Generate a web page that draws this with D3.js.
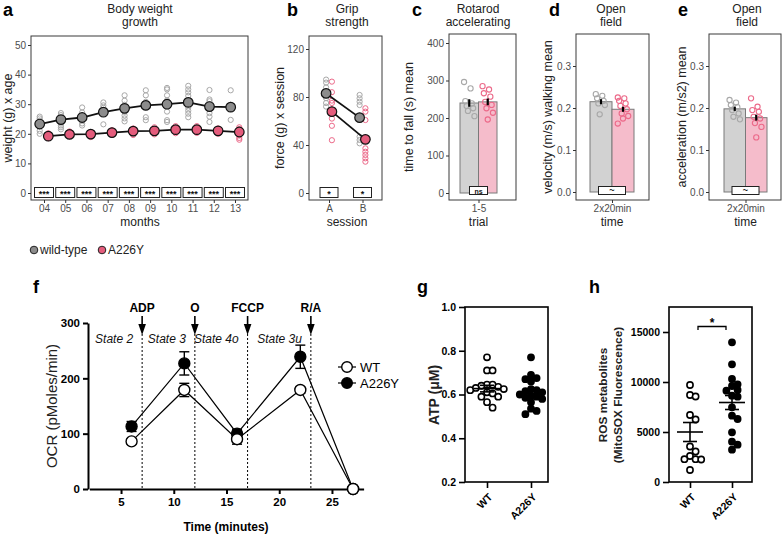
<!DOCTYPE html>
<html>
<head>
<meta charset="utf-8">
<script src="https://cdn.jsdelivr.net/npm/d3@7"></script>
<style>
  body { margin: 0; background: #fff; }
  text { font-family: "Liberation Sans", Arial, sans-serif; }
</style>
</head>
<body>
<svg id="fig" width="782" height="534"></svg>
<script>
// ---- data ----
const months = ["04", "05", "06", "07", "08", "09", "10", "11", "12", "13"];
const wtWeight = [23.3, 24.8, 25.5, 27.3, 28.6, 29.6, 30.0, 30.6, 29.2, 29.0];
const mutWeight = [19.2, 19.8, 19.9, 20.4, 20.9, 21.0, 21.4, 21.4, 21.0, 20.6];
const wtWeightDots = [
  [25.8, 25.2, 24.5, 23.5, 22.5, 21.0, 20.0],
  [27.0, 26.3, 25.0, 23.8, 22.8, 22.2, 21.5],
  [28.9, 27.2, 26.0, 24.5, 23.5, 22.8],
  [30.6, 29.6, 28.8, 28.0, 27.0, 23.2],
  [33.0, 31.2, 29.8, 28.6, 27.4, 26.2, 25.2, 24.2],
  [34.7, 33.0, 30.8, 29.2, 25.6, 24.6],
  [35.5, 35.0, 33.0, 31.3, 27.5, 24.6, 24.0],
  [36.2, 35.0, 34.0, 32.8, 31.0, 28.8, 27.8, 26.8, 25.6],
  [34.8, 31.6, 31.0, 30.0, 28.5, 27.0, 25.8, 24.0],
  [34.7, 29.8, 28.5, 24.7]
];
const mutWeightDots = [
  [20.2, 19.6, 19.0, 18.5],
  [20.8, 20.2, 19.6, 19.2],
  [20.6, 20.0, 19.4, 18.9],
  [21.2, 20.6, 20.0, 19.6],
  [21.8, 21.2, 20.6, 20.0, 19.6],
  [22.2, 21.6, 21.0, 20.4, 19.8],
  [22.6, 22.0, 21.4, 20.8, 20.2],
  [22.6, 22.0, 21.4, 20.8, 20.3],
  [21.8, 21.2, 20.6, 20.0],
  [22.2, 21.6, 21.0, 20.2, 19.4, 18.6, 18.0]
];
const weightSig = ["***", "***", "***", "***", "***", "***", "***", "***", "***", "***"];

const sessions = ["A", "B"];
const wtGrip = [83, 62.8];
const mutGrip = [67.8, 44.7];
const wtGripSem = [2.5, 3];
const mutGripSem = [4, 3.5];
const wtGripDots = [[94.5, 92, 88, 83, 79, 75, 72], [81.7, 78.9, 76.1, 73.3, 62.2, 46.9, 44.2, 41.4]];
const mutGripDots = [[92.8, 84, 77, 75, 68.5, 62, 56, 44], [70.6, 67.8, 60.8, 45.6, 37.2, 34.4, 31.7, 28.9, 26.1]];
const gripSig = ["*", "*"];

const rotarodMean = [240, 243];
const rotarodSem = [10, 9];
const rotarodWT = [296, 279, 245, 239, 232, 226, 219, 205];
const rotarodMut = [285, 276, 266, 257, 243, 235, 226, 214, 196];

const velocityMean = [0.215, 0.197];
const velocitySem = [0.006, 0.006];
const velocityWT = [0.233, 0.229, 0.223, 0.217, 0.211, 0.207, 0.185];
const velocityMut = [0.225, 0.223, 0.217, 0.211, 0.205, 0.197, 0.187, 0.181, 0.175, 0.163];

const accelMean = [0.198, 0.177];
const accelSem = [0.005, 0.007];
const accelWT = [0.219, 0.213, 0.207, 0.202, 0.195, 0.187, 0.179, 0.173];
const accelMut = [0.223, 0.203, 0.195, 0.191, 0.179, 0.175, 0.164, 0.155, 0.13];

const ocrTime = [6, 11, 16, 22, 27];
const ocrWT = [86, 179, 90, 179, 0];
const ocrWTSem = [5, 12, 9, 6, 0];
const ocrMut = [113, 227, 100, 239, 0];
const ocrMutSem = [9, 21, 8, 21, 0];
const injTime = [7, 12, 17, 23];
const injLabels = ["ADP", "O", "FCCP", "R/A"];
const stateLabels = ["State 2", "State 3", "State 4o", "State 3u"];

const atpWT = [0.77, 0.71, 0.71, 0.645, 0.645, 0.64, 0.635, 0.63, 0.625, 0.62, 0.61, 0.605, 0.59, 0.59, 0.565, 0.54];
const atpMut = [0.77, 0.69, 0.675, 0.67, 0.66, 0.625, 0.62, 0.615, 0.61, 0.6, 0.595, 0.59, 0.585, 0.58, 0.565, 0.535, 0.525, 0.51];
const atpMean = [0.627, 0.603];
const atpSem = [0.015, 0.015];

const rosWT = [9700, 8700, 8550, 6700, 6250, 3550, 3050, 2600, 2280, 2280, 2250, 1200];
const rosMut = [13970, 11770, 10300, 9770, 9600, 9200, 9130, 8630, 8530, 7470, 6630, 6300, 4970, 4030, 3730, 3230];
const rosMean = [5000, 7950];
const rosSem = [950, 700];

const genotypes = ["WT", "A226Y"];

// ---- styles ----
const INK = "#222";
const TICK = "#4d4d4d";
const BOXC = "#3a3a3a";
const GREY_PT = "#8c8c8c", PINK_PT = "#e45c7c";
const GREY_OPEN = "#a8a8a8", PINK_OPEN = "#ec6a8a";
const GREY_BAR = "#d2d2d2", PINK_BAR = "#f5bccb";

const svg = d3.select("#fig");

function letter(x, y, t) {
  svg.append("text").attr("x", x).attr("y", y).attr("font-size", 18).attr("font-weight", 700)
    .attr("fill", "#000").text(t);
}
function title(x, lines) {
  lines.forEach((l, i) => {
    svg.append("text").attr("x", x).attr("y", 13 + i * 13).attr("text-anchor", "middle")
      .attr("font-size", 12).attr("fill", INK).text(l);
  });
}
function yTitle(x, yc, t, size, weight) {
  svg.append("text").attr("transform", `translate(${x},${yc}) rotate(-90)`)
    .attr("text-anchor", "middle").attr("dy", "0.35em")
    .attr("font-size", size || 12.5).attr("font-weight", weight || 400).attr("fill", INK).text(t);
}
function ggBox(x, y, w, h) {
  svg.append("rect").attr("x", x).attr("y", y).attr("width", w).attr("height", h)
    .attr("fill", "none").attr("stroke", BOXC).attr("stroke-width", 1);
}
function ggY(scale, ticks, x, fmt) {
  const g = svg.append("g").attr("transform", `translate(${x},0)`)
    .call(d3.axisLeft(scale).tickValues(ticks).tickSize(3).tickPadding(2).tickFormat(fmt || d3.format("d")));
  g.select(".domain").remove();
  g.selectAll("line").attr("stroke", "#333");
  g.selectAll("text").attr("font-size", 10).attr("fill", TICK);
}
function ggX(scale, y, fmt) {
  const g = svg.append("g").attr("transform", `translate(0,${y})`)
    .call(d3.axisBottom(scale).tickSize(3).tickPadding(2).tickFormat(fmt || (d => d)));
  g.select(".domain").remove();
  g.selectAll("line").attr("stroke", "#333");
  g.selectAll("text").attr("font-size", 10).attr("fill", TICK);
}
function xTitle(x, t) {
  svg.append("text").attr("x", x).attr("y", 226).attr("text-anchor", "middle")
    .attr("font-size", 12).attr("fill", INK).text(t);
}
function sigBox(cx, w, y0, y1, t) {
  svg.append("rect").attr("x", cx - w / 2).attr("y", y0).attr("width", w).attr("height", y1 - y0)
    .attr("fill", "#fff").attr("stroke", "#222").attr("stroke-width", 1);
  svg.append("text").attr("x", cx).attr("y", (y0 + y1) / 2).attr("dy", t === "~" ? "0.3em" : "0.55em")
    .attr("text-anchor", "middle").attr("font-size", t === "ns" ? 7 : 9).attr("font-weight", 700)
    .attr("fill", "#111").text(t);
}

// ================= a: body weight =================
letter(3, 16, "a");
title(140, ["Body weight", "growth"]);
const ya = d3.scaleLinear().domain([0, 50]).range([193, 45]);
const xa = d3.scalePoint().domain(months).range([44, 235]);
const dodgeA = 4.3;
ggBox(31, 36, 217, 164);
ggY(ya, [0, 10, 20, 30, 40, 50], 31);
ggX(xa, 200);
yTitle(8, 118, "weight (g) x age");
xTitle(140, "months");
months.forEach((m, i) => sigBox(xa(m), 19, 187.5, 197.5, weightSig[i]));

months.forEach((m, i) => {
  wtWeightDots[i].forEach(v => svg.append("circle").attr("cx", xa(m) - dodgeA).attr("cy", ya(v)).attr("r", 2.6)
    .attr("fill", "none").attr("stroke", GREY_OPEN).attr("stroke-width", 1));
});
const lineA = (arr, off) => d3.line().x((d, i) => xa(months[i]) + off).y(d => ya(d))(arr);
svg.append("path").attr("d", lineA(wtWeight, -dodgeA)).attr("fill", "none").attr("stroke", "#111").attr("stroke-width", 1.8);
months.forEach((m, i) => svg.append("circle").attr("cx", xa(m) - dodgeA).attr("cy", ya(wtWeight[i])).attr("r", 4.8)
  .attr("fill", GREY_PT).attr("stroke", "#111").attr("stroke-width", 1.2));

months.forEach((m, i) => {
  mutWeightDots[i].forEach(v => svg.append("circle").attr("cx", xa(m) + dodgeA).attr("cy", ya(v)).attr("r", 2.6)
    .attr("fill", "none").attr("stroke", PINK_OPEN).attr("stroke-width", 1));
});
svg.append("path").attr("d", lineA(mutWeight, dodgeA)).attr("fill", "none").attr("stroke", "#111").attr("stroke-width", 1.8);
months.forEach((m, i) => svg.append("circle").attr("cx", xa(m) + dodgeA).attr("cy", ya(mutWeight[i])).attr("r", 4.8)
  .attr("fill", PINK_PT).attr("stroke", "#111").attr("stroke-width", 1.2));

// legend
svg.append("circle").attr("cx", 34).attr("cy", 250).attr("r", 3.8).attr("fill", GREY_PT).attr("stroke", "#222").attr("stroke-width", 1);
svg.append("text").attr("x", 40).attr("y", 254).attr("font-size", 12).attr("fill", INK).text("wild-type");
svg.append("circle").attr("cx", 102).attr("cy", 250).attr("r", 3.8).attr("fill", PINK_PT).attr("stroke", "#222").attr("stroke-width", 1);
svg.append("text").attr("x", 108).attr("y", 254).attr("font-size", 12).attr("fill", INK).text("A226Y");

// ================= b: grip strength =================
letter(287, 16, "b");
title(347, ["Grip", "strength"]);
const yb = d3.scaleLinear().domain([0, 120]).range([193, 49]);
const xb = d3.scalePoint().domain(sessions).range([329, 362.5]);
const dodgeB = 2.9;
ggBox(309, 36, 73, 164);
ggY(yb, [0, 40, 80, 120], 309);
ggX(xb, 200);
yTitle(280, 118, "force (g) x session");
xTitle(347, "session");
sessions.forEach((s, i) => sigBox(xb(s), 18, 187.5, 197.5, gripSig[i]));
sessions.forEach((s, i) => {
  wtGripDots[i].forEach(v => svg.append("circle").attr("cx", xb(s) - dodgeB).attr("cy", yb(v)).attr("r", 2.6)
    .attr("fill", "none").attr("stroke", GREY_OPEN).attr("stroke-width", 1));
});
sessions.forEach((s, i) => {
  mutGripDots[i].forEach(v => svg.append("circle").attr("cx", xb(s) + dodgeB).attr("cy", yb(v)).attr("r", 2.6)
    .attr("fill", "none").attr("stroke", PINK_OPEN).attr("stroke-width", 1));
});
[[wtGrip, wtGripSem, -dodgeB, GREY_PT], [mutGrip, mutGripSem, dodgeB, PINK_PT]].forEach(([mean, sem, off, col]) => {
  sessions.forEach((s, i) => svg.append("line").attr("x1", xb(s) + off).attr("x2", xb(s) + off)
    .attr("y1", yb(mean[i] - sem[i])).attr("y2", yb(mean[i] + sem[i])).attr("stroke", "#111").attr("stroke-width", 1.8));
  svg.append("path").attr("d", d3.line().x((d, i) => xb(sessions[i]) + off).y(d => yb(d))(mean))
    .attr("fill", "none").attr("stroke", "#111").attr("stroke-width", 1.8);
  sessions.forEach((s, i) => svg.append("circle").attr("cx", xb(s) + off).attr("cy", yb(mean[i])).attr("r", 4.8)
    .attr("fill", col).attr("stroke", "#111").attr("stroke-width", 1.2));
});

// ================= c, d, e: bar panels =================
function barPanel(o) {
  letter(o.letterX, 16, o.letter);
  title(o.titleX, o.titleLines);
  const y = d3.scaleLinear().domain(o.domain).range(o.yRange);
  const x = d3.scaleBand().domain(genotypes).range(o.band).padding(0);
  const cx = (o.band[0] + o.band[1]) / 2;
  ggBox(o.box[0], 34, o.box[1] - o.box[0], 166);
  ggY(y, o.ticks, o.box[0], o.fmt);
  ggX(d3.scalePoint().domain([o.xTick]).range([cx, cx]), 200);
  yTitle(o.yTitleX, 117, o.yTitle);
  xTitle(cx, o.xTitle);
  genotypes.forEach((gname, i) => {
    svg.append("rect").attr("x", x(gname)).attr("y", y(o.mean[i])).attr("width", x.bandwidth())
      .attr("height", y(0) - y(o.mean[i])).attr("fill", i ? PINK_BAR : GREY_BAR)
      .attr("stroke", "#7a7a7a").attr("stroke-width", 1);
  });
  [o.wt, o.mut].forEach((vals, gi) => {
    const bx = x(genotypes[gi]) + x.bandwidth() / 2;
    vals.forEach((v, j) => {
      const off = (((j * 5) % 9) - 4) * 1.3;
      svg.append("circle").attr("cx", bx + off).attr("cy", y(v)).attr("r", 2.6)
        .attr("fill", "none").attr("stroke", gi ? PINK_OPEN : GREY_OPEN).attr("stroke-width", 1.1);
    });
  });
  genotypes.forEach((gname, i) => {
    const bx = x(gname) + x.bandwidth() / 2;
    svg.append("line").attr("x1", bx).attr("x2", bx).attr("y1", y(o.mean[i] - o.sem[i])).attr("y2", y(o.mean[i] + o.sem[i]))
      .attr("stroke", "#000").attr("stroke-width", 2.2);
  });
  sigBox(cx, o.sigW, 186.5, 194.5, o.sig);
}

barPanel({
  letter: "c", letterX: 412, titleX: 478, titleLines: ["Rotarod", "accelerating"],
  domain: [0, 400], yRange: [193, 43], ticks: [0, 100, 200, 300, 400], box: [449, 516], band: [460, 497],
  mean: rotarodMean, sem: rotarodSem, wt: rotarodWT, mut: rotarodMut,
  xTick: "1-5", xTitle: "trial", yTitle: "time to fall (s) mean", yTitleX: 409, sig: "ns", sigW: 18
});
barPanel({
  letter: "d", letterX: 549, titleX: 611, titleLines: ["Open", "field"],
  domain: [0, 0.3], yRange: [192, 66], ticks: [0, 0.1, 0.2, 0.3], fmt: d3.format(".1f"), box: [576, 649], band: [590, 634],
  mean: velocityMean, sem: velocitySem, wt: velocityWT, mut: velocityMut,
  xTick: "2x20min", xTitle: "time", yTitle: "velocity (m/s) walking mean", yTitleX: 548, sig: "~", sigW: 27
});
barPanel({
  letter: "e", letterX: 678, titleX: 747, titleLines: ["Open", "field"],
  domain: [0, 0.3], yRange: [192, 66], ticks: [0, 0.1, 0.2, 0.3], fmt: d3.format(".1f"), box: [709, 781], band: [724, 767],
  mean: accelMean, sem: accelSem, wt: accelWT, mut: accelMut,
  xTick: "2x20min", xTitle: "time", yTitle: "acceleration (m/s2) mean", yTitleX: 682, sig: "~", sigW: 27
});

// ================= f: OCR =================
letter(33, 293, "f");
const xf = d3.scaleLinear().domain([2, 28]).range([89.4, 363.6]);
const yf = d3.scaleLinear().domain([0, 300]).range([489, 323]);
{
  const gx = svg.append("g").attr("transform", "translate(0,489)")
    .call(d3.axisBottom(xf).tickValues([5, 10, 15, 20, 25]).tickSize(5).tickPadding(4).tickSizeOuter(0));
  gx.selectAll("path,line").attr("stroke", "#000").attr("stroke-width", 2);
  gx.selectAll("text").attr("font-size", 11.5).attr("font-weight", 700).attr("fill", "#000");
  const gy = svg.append("g").attr("transform", "translate(88,0)")
    .call(d3.axisLeft(yf).tickValues([0, 100, 200, 300]).tickSize(5).tickPadding(3).tickSizeOuter(0));
  gy.selectAll("path,line").attr("stroke", "#000").attr("stroke-width", 2);
  gy.selectAll("text").attr("font-size", 11.5).attr("font-weight", 700).attr("fill", "#000");
}
yTitle(52, 406, "OCR (pMoles/min)", 15);
svg.append("text").attr("x", 226).attr("y", 531).attr("text-anchor", "middle").attr("font-size", 12)
  .attr("font-weight", 700).attr("fill", "#000").text("Time (minutes)");

injTime.forEach((t, i) => {
  const x = xf(t);
  svg.append("line").attr("x1", x).attr("x2", x).attr("y1", 334).attr("y2", 489)
    .attr("stroke", "#000").attr("stroke-width", 1).attr("stroke-dasharray", "2,2");
  svg.append("line").attr("x1", x).attr("x2", x).attr("y1", 316).attr("y2", 326).attr("stroke", "#000").attr("stroke-width", 1.6);
  svg.append("path").attr("d", `M${x - 3.8},324L${x + 3.8},324L${x},335Z`).attr("fill", "#000");
  svg.append("text").attr("x", x).attr("y", 312).attr("text-anchor", "middle").attr("font-size", 12)
    .attr("font-weight", 700).attr("fill", "#000").text(injLabels[i]);
  svg.append("text").attr("x", x - 9).attr("y", 343).attr("text-anchor", "end").attr("font-size", 12)
    .attr("font-style", "italic").attr("fill", "#111").text(stateLabels[i]);
});

[[ocrMut, ocrMutSem, true], [ocrWT, ocrWTSem, false]].forEach(([vals, sem, filled]) => {
  svg.append("path").attr("d", d3.line().x((d, i) => xf(ocrTime[i])).y(d => yf(d))(vals))
    .attr("fill", "none").attr("stroke", "#000").attr("stroke-width", 1.2);
  vals.forEach((v, i) => {
    if (!sem[i]) return;
    const x = xf(ocrTime[i]);
    const lo = v - sem[i], hi = v + sem[i];
    svg.append("line").attr("x1", x).attr("x2", x).attr("y1", yf(lo)).attr("y2", yf(hi)).attr("stroke", "#000").attr("stroke-width", 1.4);
    [lo, hi].forEach(e => svg.append("line").attr("x1", x - 5).attr("x2", x + 5).attr("y1", yf(e)).attr("y2", yf(e))
      .attr("stroke", "#000").attr("stroke-width", 1.4));
  });
  vals.forEach((v, i) => svg.append("circle").attr("cx", xf(ocrTime[i])).attr("cy", yf(v)).attr("r", 5.5)
    .attr("fill", filled ? "#000" : "#fff").attr("stroke", "#000").attr("stroke-width", 1.4));
});
// legend f
[["WT", 367, false], ["A226Y", 383, true]].forEach(([t, y, filled]) => {
  svg.append("line").attr("x1", 338).attr("x2", 356).attr("y1", y).attr("y2", y).attr("stroke", "#000").attr("stroke-width", 1.2);
  svg.append("circle").attr("cx", 347).attr("cy", y).attr("r", 5.3).attr("fill", filled ? "#000" : "#fff")
    .attr("stroke", "#000").attr("stroke-width", 1.4);
  svg.append("text").attr("x", 360).attr("y", y + 4.5).attr("font-size", 13).attr("fill", "#000").text(t);
});

// ================= g, h: dot plots =================
// simple deterministic beeswarm: place each dot at the nearest free x offset
function swarm(values, y, cx, d) {
  const placed = [];
  values.slice().sort((a, b) => b - a).forEach(v => {
    const py = y(v);
    for (let k = 0; k < 30; k++) {
      const off = k === 0 ? 0 : (k % 2 ? 1 : -1) * Math.ceil(k / 2) * d;
      const px = cx + off;
      if (placed.every(p => Math.hypot(p.x - px, p.y - py) >= d)) { placed.push({ x: px, y: py }); return; }
    }
  });
  return placed;
}

function dotPanel(o) {
  letter(o.letterX, 293, o.letter);
  const y = d3.scaleLinear().domain(o.domain).range([482, 307]);
  const x = d3.scalePoint().domain(genotypes).range(o.xs);
  svg.append("rect").attr("x", o.box[0]).attr("y", 307).attr("width", o.box[1] - o.box[0]).attr("height", 175)
    .attr("fill", "none").attr("stroke", "#000").attr("stroke-width", 1.6);
  const gy = svg.append("g").attr("transform", `translate(${o.box[0]},0)`)
    .call(d3.axisLeft(y).tickValues(o.ticks).tickSize(6).tickPadding(3).tickFormat(o.fmt));
  gy.select(".domain").remove();
  gy.selectAll("line").attr("stroke", "#000").attr("stroke-width", 1.6);
  gy.selectAll("text").attr("font-size", 10.5).attr("font-weight", 700).attr("fill", "#000");
  const gx = svg.append("g").attr("transform", "translate(0,482)")
    .call(d3.axisBottom(x).tickSize(6).tickPadding(3));
  gx.select(".domain").remove();
  gx.selectAll("line").attr("stroke", "#000").attr("stroke-width", 1.6);
  gx.selectAll("text").attr("font-size", 10.5).attr("font-weight", 700).attr("fill", "#000")
    .attr("text-anchor", "end").attr("y", 0).attr("dy", "0.35em").attr("transform", "translate(3,13) rotate(-45)");
  o.yTitles.forEach((t, i) => yTitle(o.yTitleX[i], 395, t, o.yTitleSize, 700));

  [o.wt, o.mut].forEach((vals, gi) => {
    swarm(vals, y, x(genotypes[gi]), 5.6).forEach(p => svg.append("circle").attr("cx", p.x).attr("cy", p.y).attr("r", 3.1)
      .attr("fill", gi ? "#000" : "#fff").attr("stroke", "#000").attr("stroke-width", 1.6));
  });
  genotypes.forEach((gname, i) => {
    const cx = x(gname);
    svg.append("line").attr("x1", cx - 13).attr("x2", cx + 13).attr("y1", y(o.mean[i])).attr("y2", y(o.mean[i]))
      .attr("stroke", "#000").attr("stroke-width", 1.6);
    svg.append("line").attr("x1", cx).attr("x2", cx).attr("y1", y(o.mean[i] - o.sem[i])).attr("y2", y(o.mean[i] + o.sem[i]))
      .attr("stroke", "#000").attr("stroke-width", 1.6);
    [o.mean[i] - o.sem[i], o.mean[i] + o.sem[i]].forEach(e => svg.append("line").attr("x1", cx - 7).attr("x2", cx + 7)
      .attr("y1", y(e)).attr("y2", y(e)).attr("stroke", "#000").attr("stroke-width", 1.6));
  });
}

dotPanel({
  letter: "g", letterX: 417, domain: [0.2, 1.0], ticks: [0.2, 0.4, 0.6, 0.8, 1.0], fmt: d3.format(".1f"),
  box: [465, 548], xs: [487, 531], wt: atpWT, mut: atpMut, mean: atpMean, sem: atpSem,
  yTitles: ["ATP (\u03bcM)"], yTitleX: [434], yTitleSize: 14
});
dotPanel({
  letter: "h", letterX: 589, domain: [0, 17500], ticks: [0, 5000, 10000, 15000], fmt: d3.format("d"),
  box: [669, 752], xs: [690, 732], wt: rosWT, mut: rosMut, mean: rosMean, sem: rosSem,
  yTitles: ["ROS metabolites", "(MitoSOX Fluorescence)"], yTitleX: [603, 618], yTitleSize: 11.8
});
// significance bracket in h
svg.append("path").attr("d", "M698,330V326.5H726V330").attr("fill", "none").attr("stroke", "#000").attr("stroke-width", 1.3);
svg.append("text").attr("x", 712).attr("y", 327).attr("text-anchor", "middle").attr("font-size", 12)
  .attr("font-weight", 700).attr("fill", "#000").text("*");
</script>
</body>
</html>
